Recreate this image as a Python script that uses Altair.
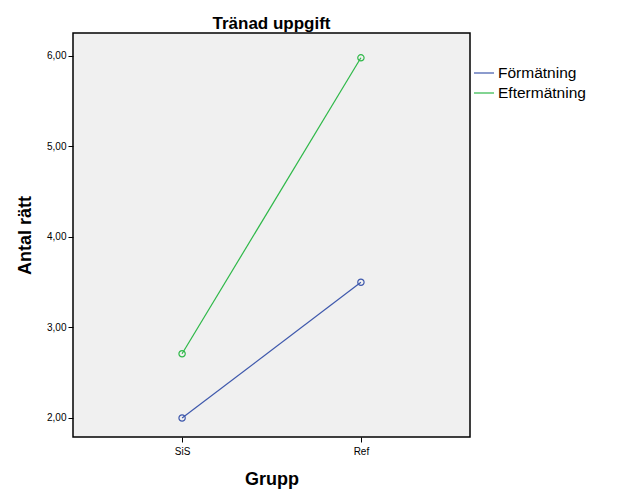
import altair as alt
import pandas as pd

groups = ["SiS", "Ref"]
series = ["Förmätning", "Eftermätning"]
forematning = [2.00, 3.50]
eftermatning = [2.71, 5.98]

rows = []
for g, v in zip(groups, forematning):
    rows.append({"Grupp": g, "Mätning": series[0], "Antal": v})
for g, v in zip(groups, eftermatning):
    rows.append({"Grupp": g, "Mätning": series[1], "Antal": v})
df = pd.DataFrame(rows)

colors = ["#3E58AC", "#2EB848"]
font = "Liberation Sans"

x = alt.X("Grupp:N", sort=groups,
          scale=alt.Scale(type="point", padding=0.61),
          axis=alt.Axis(title="Grupp", labelAngle=0, labelFontSize=10, labelColor="#000",
                        titleFontSize=18, titleFontWeight="bold", titleColor="#000",
                        tickColor="#000", domain=False, tickSize=5, labelPadding=4,
                        titlePadding=14, labelFont=font, titleFont=font))
y = alt.Y("Antal:Q", scale=alt.Scale(domain=[1.79, 6.254], nice=False, zero=False),
          axis=alt.Axis(title="Antal rätt", values=[2, 3, 4, 5, 6],
                        labelExpr="replace(format(datum.value, '.2f'), '.', ',')",
                        labelFontSize=10, labelColor="#000", titleFontSize=18,
                        titleFontWeight="bold", titleColor="#000", tickColor="#000",
                        domain=False, tickSize=5, grid=False, labelPadding=2,
                        titlePadding=12, labelFont=font, titleFont=font))
color = alt.Color("Mätning:N", sort=series,
                  scale=alt.Scale(domain=series, range=colors),
                  legend=alt.Legend(title=None, orient="none", legendX=400, legendY=29,
                                    symbolType="stroke", symbolSize=400, symbolStrokeWidth=1.2,
                                    labelFontSize=15.5, labelColor="#000", labelFont=font,
                                    rowPadding=0, labelOffset=3))

base = alt.Chart(df).encode(x=x, y=y, color=color)
lines = base.mark_line(strokeWidth=1.2)
pts = base.mark_point(filled=False, size=40, strokeWidth=1.2, opacity=1)

chart = (lines + pts).properties(
    width=397, height=404,
    title=alt.Title("Tränad uppgift", fontSize=17, fontWeight="bold", color="#000",
                    font=font, anchor="middle", offset=0),
    autosize=alt.AutoSizeParams(type="none"),
    padding={"left": 65, "top": 25, "right": 150, "bottom": 55},
).configure_view(fill="#F0F0F0", stroke="#000", strokeWidth=1.5)

chart.save("out.html", embed_options={"renderer": "svg", "actions": False})
